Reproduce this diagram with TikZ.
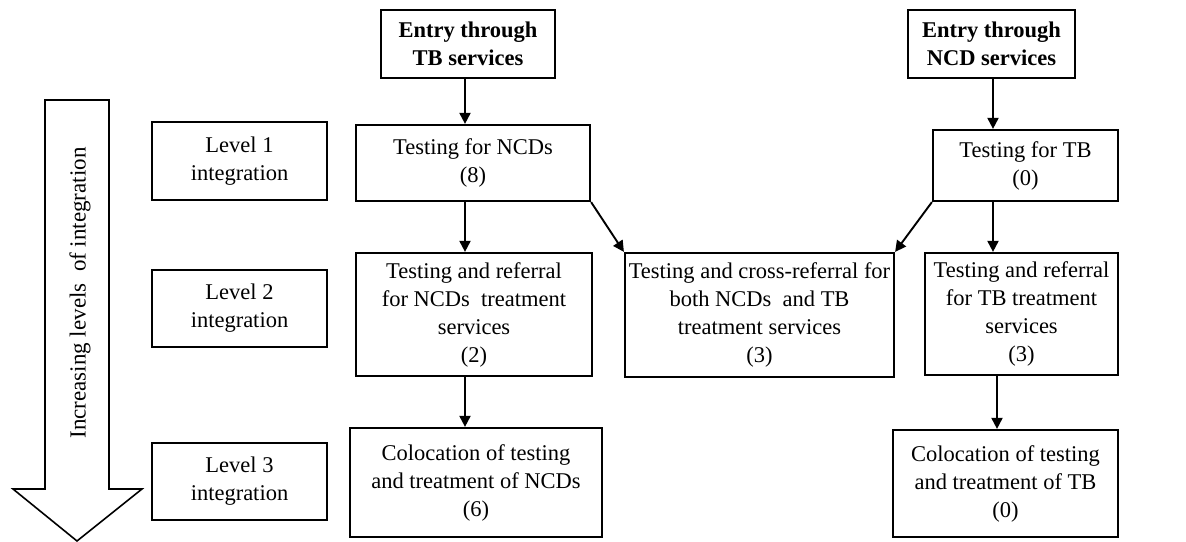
\documentclass[tikz,border=0pt]{standalone}
\usepackage{fontspec}
\setmainfont{Liberation Serif}
\usetikzlibrary{arrows.meta,calc}
\begin{document}
\begin{tikzpicture}[x=1pt,y=-1pt,
  box/.style={draw,line width=2.2pt,inner sep=0pt,align=center,
    font=\fontsize{22.5}{28}\selectfont},
  arr/.style={line width=1.9pt,-{Triangle[length=11pt,width=11pt]}},
  bigarrow/.style={draw,line width=1.6pt,fill=white}]
\useasboundingbox (0,0) rectangle (1186,541);
% big arrow
\draw[bigarrow] (45,100) -- (109,100) -- (109,489) -- (142,489) -- (77,541) -- (13,489) -- (45,489) -- cycle;
\node[rotate=90,font=\fontsize{23}{28}\selectfont] (axis) at (80,293) {Increasing levels~ of integration};
% level boxes
\node[box,minimum width=175pt,minimum height=78pt] (lvl1) at (239.5,161) {Level 1\\integration};
\node[box,minimum width=175pt,minimum height=77pt] (lvl2) at (239.5,308.5) {Level 2\\integration};
\node[box,minimum width=175pt,minimum height=77pt] (lvl3) at (239.5,481.5) {Level 3\\integration};
% entry boxes
\node[box,font=\fontsize{22.5}{28}\selectfont\bfseries,minimum width=174pt,minimum height=68pt] (entryTB) at (468,44) {Entry through\\TB services};
\node[box,font=\fontsize{22.5}{28}\selectfont\bfseries,minimum width=167pt,minimum height=68pt] (entryNCD) at (991.5,44) {Entry through\\NCD services};
% level 1
\node[box,minimum width=234pt,minimum height=76pt] (tNCD) at (473,163) {Testing for NCDs\\(8)};
\node[box,minimum width=185pt,minimum height=71pt] (tTB) at (1025.5,165.5) {Testing for TB\\(0)};
% level 2
\node[box,minimum width=236pt,minimum height=123pt] (rNCD) at (474,314.5) {Testing and referral\\for NCDs~ treatment\\services\\(2)};
\node[box,minimum width=269pt,minimum height=124pt] (cross) at (759.5,315) {Testing and cross-referral for\\both NCDs~ and TB\\treatment services\\(3)};
\node[box,minimum width=193pt,minimum height=122pt] (rTB) at (1021.5,314) {Testing and referral\\for TB treatment\\services\\(3)};
% level 3
\node[box,minimum width=252pt,minimum height=109pt] (cNCD) at (476,482.5) {Colocation of testing\\and treatment of NCDs\\(6)};
\node[box,minimum width=225pt,minimum height=107pt] (cTB) at (1005.5,483.5) {Colocation of testing\\and treatment of TB\\(0)};
% connectors
\draw[arr] ([xshift=-3pt]entryTB.south) -- ([xshift=-3pt]entryTB.south |- tNCD.north);
\draw[arr] ([xshift=1.5pt]entryNCD.south) -- ([xshift=1.5pt]entryNCD.south |- tTB.north);
\draw[arr] ([xshift=-3pt]entryTB.south |- tNCD.south) -- ([xshift=-3pt]entryTB.south |- rNCD.north);
\draw[arr] ([xshift=-3pt]entryTB.south |- rNCD.south) -- ([xshift=-3pt]entryTB.south |- cNCD.north);
\draw[arr] ([xshift=1.5pt]entryNCD.south |- tTB.south) -- ([xshift=1.5pt]entryNCD.south |- rTB.north);
\draw[arr] ([xshift=5.5pt]entryNCD.south |- rTB.south) -- ([xshift=5.5pt]entryNCD.south |- cTB.north);
\draw[arr] (tNCD.south east) -- (cross.north west);
\draw[arr] (tTB.south west) -- (cross.north east);
\end{tikzpicture}
\end{document}
